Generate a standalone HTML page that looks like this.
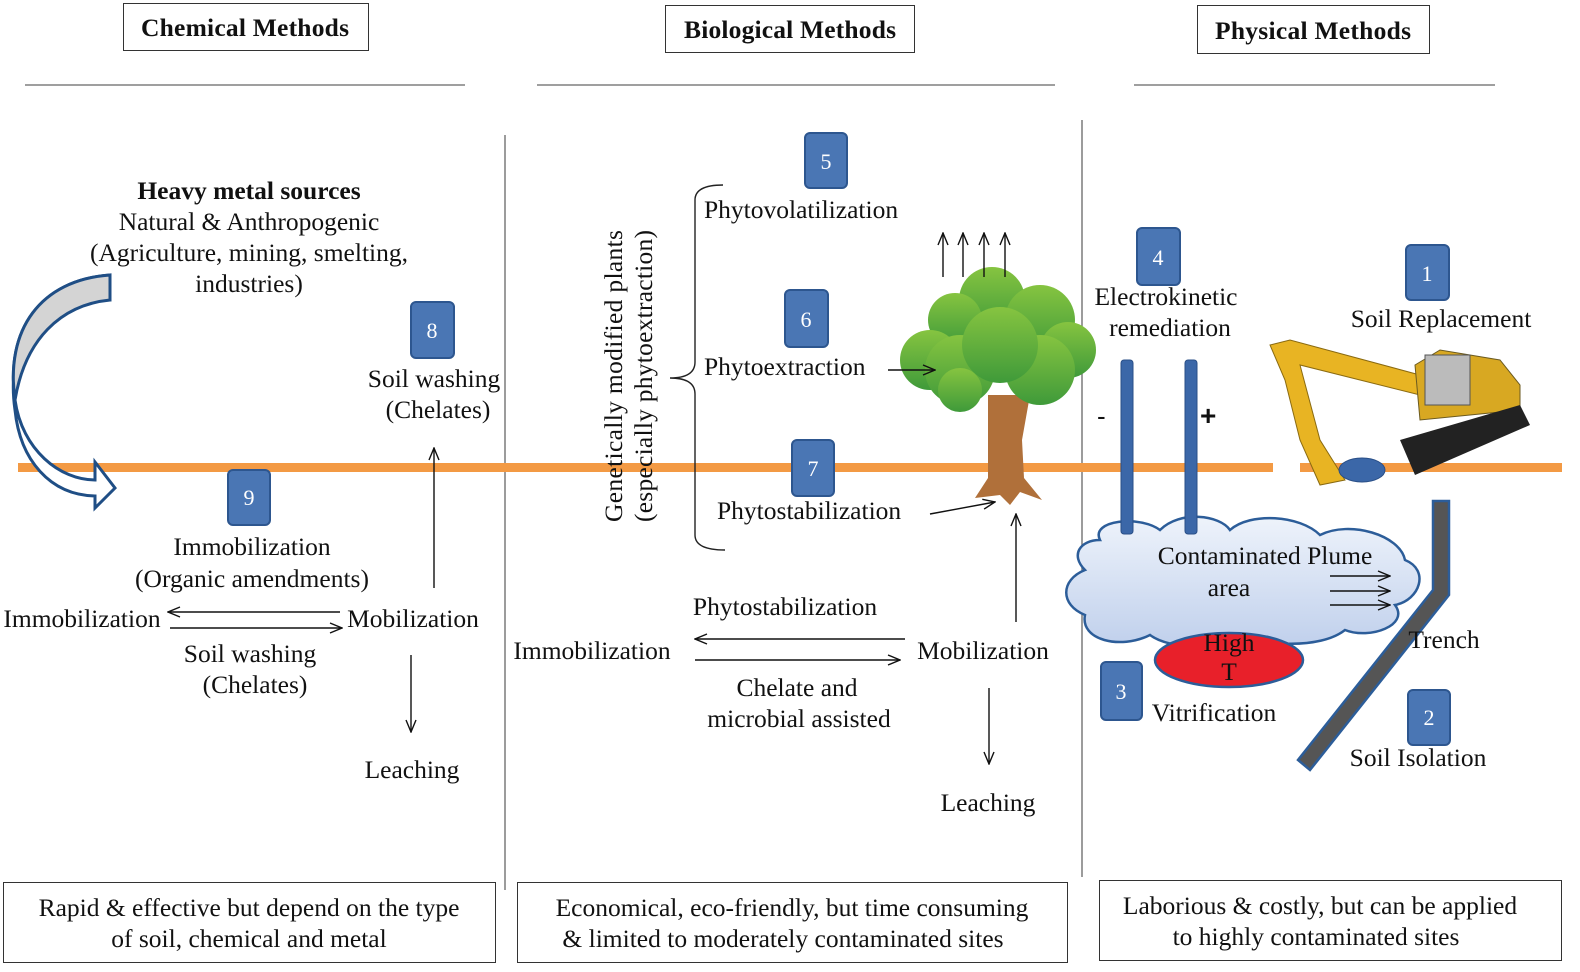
<!DOCTYPE html>
<html><head><meta charset="utf-8"><style>
html,body{margin:0;padding:0;background:#fff;overflow:hidden;}
svg{display:block;}
text{font-family:"Liberation Serif",serif;font-size:25.5px;fill:#111;}
.b{font-weight:bold;}
.n{fill:#fff;font-size:22px;text-anchor:middle;}
.m{text-anchor:middle;}
</style></head><body>
<svg width="1580" height="972" viewBox="0 0 1580 972" xmlns="http://www.w3.org/2000/svg">
<defs>
<marker id="a" markerWidth="14" markerHeight="12" refX="13" refY="6" orient="auto" markerUnits="userSpaceOnUse"><path d="M1,1 L13,6 L1,11" fill="none" stroke="#111" stroke-width="1.4"/></marker>
<linearGradient id="g" x1="0" y1="0" x2="0" y2="1"><stop offset="0" stop-color="#86c440"/><stop offset="1" stop-color="#3f9a3a"/></linearGradient>
<linearGradient id="c" x1="0" y1="0" x2="0" y2="1"><stop offset="0" stop-color="#eef3fb"/><stop offset="1" stop-color="#c0d0ec"/></linearGradient>
</defs>
<rect x="123.5" y="3.5" width="245" height="47" fill="#fff" stroke="#333"/>
<text x="245" y="36" class="b m" textLength="208">Chemical Methods</text>
<rect x="665.5" y="5.5" width="249" height="47" fill="#fff" stroke="#333"/>
<text x="790" y="38" class="b m" textLength="212">Biological Methods</text>
<rect x="1197.5" y="5.5" width="232" height="48" fill="#fff" stroke="#333"/>
<text x="1313" y="39" class="b m" textLength="196">Physical Methods</text>
<g stroke="#666" stroke-width="1.3">
<line x1="25" y1="85" x2="465" y2="85"/><line x1="537" y1="85" x2="1055" y2="85"/><line x1="1134" y1="85" x2="1495" y2="85"/>
<line x1="505" y1="135" x2="505" y2="890"/><line x1="1082" y1="120" x2="1082" y2="877"/>
</g>
<rect x="18" y="463" width="1255" height="9" fill="#f39a44"/>
<rect x="1300" y="463" width="262" height="9" fill="#f39a44"/>
<path d="M110,275 C40,280 5,330 15,400 C22,450 60,480 95,480 L95,462 L115,488 L95,508 L95,496 C50,495 20,460 15,410 C5,340 40,300 110,300 Z" fill="#fff" stroke="#1f4e85" stroke-width="3"/>
<path d="M110,275 C40,280 5,330 15,400 C25,340 60,305 110,300 Z" fill="#d4d4d4" stroke="#1f4e85" stroke-width="3"/>
<text x="249" y="199" class="b m">Heavy metal sources</text>
<text x="249" y="230" class="m">Natural &amp; Anthropogenic</text>
<text x="249" y="261" class="m">(Agriculture, mining, smelting,</text>
<text x="249" y="292" class="m">industries)</text>
<text x="434" y="387" class="m">Soil washing</text>
<text x="438" y="418" class="m">(Chelates)</text>
<text x="252" y="555" class="m">Immobilization</text>
<text x="252" y="587" class="m">(Organic amendments)</text>
<text x="82" y="627" class="m">Immobilization</text>
<text x="413" y="627" class="m">Mobilization</text>
<text x="250" y="662" class="m">Soil washing</text>
<text x="255" y="693" class="m">(Chelates)</text>
<text x="412" y="778" class="m">Leaching</text>
<g stroke="#111" stroke-width="1.4" fill="none">
<line x1="340" y1="612" x2="168" y2="612" marker-end="url(#a)"/>
<line x1="170" y1="628" x2="342" y2="628" marker-end="url(#a)"/>
<line x1="434" y1="588" x2="434" y2="448" marker-end="url(#a)"/>
<line x1="411" y1="655" x2="411" y2="732" marker-end="url(#a)"/>
</g>
<text transform="translate(622,522) rotate(-90)" textLength="292">Genetically modified plants</text>
<text transform="translate(652,522) rotate(-90)" textLength="292">(especially phytoextraction)</text>
<path d="M723,185 Q695,185 695,200 L695,362 Q695,378 670,378 Q695,378 695,394 L695,535 Q695,550 725,550" fill="none" stroke="#222" stroke-width="1.4"/>
<text x="704" y="218">Phytovolatilization</text>
<text x="704" y="375">Phytoextraction</text>
<text x="717" y="519">Phytostabilization</text>
<text x="785" y="615" class="m">Phytostabilization</text>
<text x="592" y="659" class="m">Immobilization</text>
<text x="983" y="659" class="m">Mobilization</text>
<text x="797" y="696" class="m">Chelate  and</text>
<text x="799" y="727" class="m">microbial assisted</text>
<text x="988" y="811" class="m">Leaching</text>
<path d="M988,395 L1030,395 L1022,440 L1024,478 L1042,500 L1020,492 L1010,505 L1000,495 L975,498 L988,478 Z" fill="#b0703a"/>
<g fill="url(#g)">
<circle cx="992" cy="300" r="33"/><circle cx="1040" cy="320" r="35"/><circle cx="955" cy="320" r="27"/>
<circle cx="930" cy="360" r="30"/><circle cx="1068" cy="350" r="28"/><circle cx="960" cy="370" r="35"/>
<circle cx="1040" cy="370" r="35"/><circle cx="1000" cy="345" r="38"/><circle cx="960" cy="390" r="22"/>
</g>
<g stroke="#111" stroke-width="1.4" fill="none">
<line x1="905" y1="639" x2="695" y2="639" marker-end="url(#a)"/>
<line x1="695" y1="660" x2="900" y2="660" marker-end="url(#a)"/>
<line x1="1016" y1="622" x2="1016" y2="514" marker-end="url(#a)"/>
<line x1="989" y1="688" x2="989" y2="764" marker-end="url(#a)"/>
<line x1="888" y1="370" x2="935" y2="370" marker-end="url(#a)"/>
<line x1="930" y1="514" x2="995" y2="502" marker-end="url(#a)"/>
<line x1="943" y1="277" x2="943" y2="233" marker-end="url(#a)"/>
<line x1="963" y1="277" x2="963" y2="233" marker-end="url(#a)"/>
<line x1="984" y1="277" x2="984" y2="233" marker-end="url(#a)"/>
<line x1="1005" y1="277" x2="1005" y2="233" marker-end="url(#a)"/>
</g>
<path d="M1100,540 C1090,520 1140,515 1160,530 C1180,510 1220,515 1230,530 C1250,512 1300,515 1320,535 C1350,520 1400,535 1405,560 C1430,570 1420,600 1395,605 C1410,625 1370,640 1345,630 C1320,650 1260,645 1245,635 C1220,650 1170,650 1150,635 C1120,650 1080,640 1085,615 C1060,605 1060,580 1085,570 C1070,555 1080,540 1100,540 Z" fill="url(#c)" stroke="#2c5d99" stroke-width="2.5"/>
<ellipse cx="1229" cy="660" rx="74" ry="27" fill="#e8202a" stroke="#2c5d99" stroke-width="2.5"/>
<text x="1229" y="651" class="m">High</text><text x="1229" y="680" class="m">T</text>
<rect x="1121" y="360" width="12" height="174" rx="3" fill="#3b67a8" stroke="#2a4f87"/>
<rect x="1185" y="360" width="12" height="174" rx="3" fill="#3b67a8" stroke="#2a4f87"/>
<text x="1097" y="425" style="font-size:26px;font-family:'Liberation Sans',sans-serif">-</text>
<text x="1200" y="425" class="b" style="font-size:28px;font-family:'Liberation Sans',sans-serif">+</text>
<text x="1166" y="305" class="m">Electrokinetic</text>
<text x="1170" y="336" class="m">remediation</text>
<text x="1265" y="564" class="m">Contaminated  Plume</text>
<text x="1229" y="596" class="m">area</text>
<g stroke="#111" stroke-width="1.4" fill="none">
<line x1="1330" y1="576" x2="1390" y2="576" marker-end="url(#a)"/>
<line x1="1330" y1="591" x2="1390" y2="591" marker-end="url(#a)"/>
<line x1="1330" y1="605" x2="1390" y2="605" marker-end="url(#a)"/>
</g>
<path d="M1433,501 L1449,501 L1449,595 L1310,770 L1298,760 L1433,590 Z" fill="#555" stroke="#2c5d99" stroke-width="2.5"/>
<text x="1444" y="648" class="m">Trench</text>
<text x="1214" y="721" class="m">Vitrification</text>
<text x="1418" y="766" class="m">Soil Isolation</text>
<text x="1441" y="327" class="m">Soil Replacement</text>
<g>
<path d="M1270,345 L1290,340 L1420,375 L1420,395 L1300,365 L1320,440 L1345,480 L1320,485 L1300,440 L1285,380 Z" fill="#e8b423" stroke="#8a6a10"/>
<path d="M1415,365 L1440,350 L1500,360 L1520,385 L1520,410 L1420,420 Z" fill="#d8a822" stroke="#6b5a20"/>
<rect x="1425" y="355" width="45" height="50" fill="#bbb" stroke="#555"/>
<path d="M1400,440 L1520,405 L1530,425 L1415,475 Z" fill="#222"/>
<ellipse cx="1362" cy="470" rx="23" ry="12" fill="#3b67a8" stroke="#2a4f87"/>
</g>
<g fill="#4a76b4" stroke="#2d568f" stroke-width="2">
<rect x="805" y="133" width="42" height="55" rx="5"/><rect x="785" y="290" width="43" height="57" rx="5"/>
<rect x="792" y="440" width="42" height="56" rx="5"/><rect x="411" y="302" width="43" height="56" rx="5"/>
<rect x="228" y="470" width="42" height="55" rx="5"/><rect x="1137" y="228" width="43" height="57" rx="5"/>
<rect x="1406" y="245" width="43" height="55" rx="5"/><rect x="1101" y="662" width="41" height="58" rx="5"/>
<rect x="1408" y="690" width="42" height="55" rx="5"/>
</g>
<text x="826" y="169" class="n">5</text><text x="806" y="327" class="n">6</text><text x="813" y="476" class="n">7</text>
<text x="432" y="338" class="n">8</text><text x="249" y="505" class="n">9</text><text x="1158" y="265" class="n">4</text>
<text x="1427" y="281" class="n">1</text><text x="1121" y="699" class="n">3</text><text x="1429" y="725" class="n">2</text>
<rect x="3.5" y="882.5" width="492" height="80" fill="#fff" stroke="#333"/>
<text x="249" y="916" class="m">Rapid &amp; effective but depend on the type</text>
<text x="249" y="947" class="m">of soil, chemical and metal</text>
<rect x="517.5" y="882.5" width="550" height="80" fill="#fff" stroke="#333"/>
<text x="792" y="916" class="m">Economical, eco-friendly, but time consuming</text>
<text x="783" y="947" class="m">&amp; limited to moderately contaminated sites</text>
<rect x="1099.5" y="880.5" width="462" height="80" fill="#fff" stroke="#333"/>
<text x="1320" y="914" class="m">Laborious &amp; costly, but can be applied</text>
<text x="1316" y="945" class="m">to highly contaminated sites</text>
</svg>
</body></html>
